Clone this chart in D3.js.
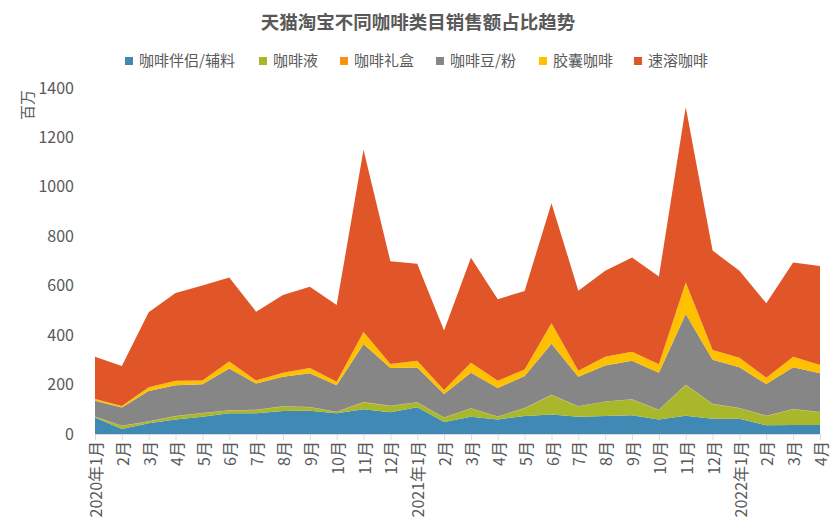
<!DOCTYPE html>
<html>
<head>
<meta charset="utf-8">
<script src="https://cdn.jsdelivr.net/npm/d3@7"></script>
<style>
  body { margin: 0; background: #fff; }
  text { font-family: "Noto Sans CJK SC", "Open Sans", sans-serif; }
</style>
</head>
<body>
<div id="chart"></div>
<script>
// months, 2020-01 .. 2022-04
const months = ['2020年1月', '2月', '3月', '4月', '5月', '6月', '7月', '8月', '9月', '10月', '11月', '12月',
    '2021年1月', '2月', '3月', '4月', '5月', '6月', '7月', '8月', '9月', '10月', '11月', '12月',
    '2022年1月', '2月', '3月', '4月'];

const seriesNames = ['咖啡伴侣/辅料', '咖啡液', '咖啡礼盒', '咖啡豆/粉', '胶囊咖啡', '速溶咖啡'];
const seriesColors = ['#4189b5', '#a8b82a', '#f7930f', '#868686', '#ffc000', '#e05628'];

// 百万
const creamer = [67, 20, 43, 59, 70, 84, 84, 93, 94, 84, 100, 88, 108, 49, 70, 59, 73, 79, 70, 73, 76, 59, 74, 62, 62, 35, 36, 36];
const liquid = [3, 12, 8, 13, 14, 11, 13, 18, 14, 5, 27, 25, 19, 17, 33, 11, 31, 78, 41, 58, 64, 38, 123, 59, 42, 38, 64, 52];
const giftBox = [1, 1, 1, 1, 1, 1, 1, 1, 1, 1, 2, 1, 1, 1, 1, 1, 1, 2, 1, 1, 1, 1, 2, 1, 1, 1, 1, 1];
const beans = [64, 74, 122, 124, 116, 169, 106, 120, 137, 107, 235, 153, 141, 95, 144, 115, 130, 206, 120, 145, 155, 150, 287, 178, 165, 128, 169, 157];
const capsule = [7, 6, 15, 18, 15, 28, 12, 16, 21, 14, 49, 16, 27, 16, 40, 29, 26, 83, 24, 36, 37, 34, 127, 40, 39, 26, 43, 33];
const instant = [171, 162, 304, 356, 385, 340, 279, 314, 329, 311, 737, 416, 393, 241, 425, 330, 318, 486, 324, 348, 381, 355, 710, 402, 352, 301, 381, 401];

const yTicks = [0, 200, 400, 600, 800, 1000, 1200, 1400];

const allSeries = [creamer, liquid, giftBox, beans, capsule, instant];
const rows = months.map((m, i) => {
    const r = { idx: i };
    seriesNames.forEach((s, k) => r[s] = allSeries[k][i]);
    return r;
});

const width = 831, height = 529;
const margin = { top: 88, right: 11, bottom: 95, left: 95 };

const svg = d3.select('#chart').append('svg')
    .attr('width', width).attr('height', height);

const x = d3.scalePoint(d3.range(months.length), [margin.left, width - margin.right]);
const y = d3.scaleLinear([0, 1400], [height - margin.bottom, margin.top]);

const stack = d3.stack().keys(seriesNames);
const layers = stack(rows);

const area = d3.area()
    .x(d => x(d.data.idx))
    .y0(d => y(d[0]))
    .y1(d => y(d[1]));

svg.append('g').selectAll('path')
    .data(layers)
    .join('path')
    .attr('d', area)
    .attr('fill', (d, i) => seriesColors[i]);

// x axis
const axisX = svg.append('g')
    .attr('transform', `translate(0,${y(0)})`)
    .call(d3.axisBottom(x).tickSize(6).tickSizeOuter(0).tickFormat(i => months[i]));
axisX.select('.domain').attr('stroke', '#d9d9d9');
axisX.selectAll('.tick line').attr('stroke', '#d9d9d9');
axisX.selectAll('.tick text')
    .attr('transform', 'rotate(-90)')
    .attr('x', -7).attr('y', 1).attr('dy', '0.35em')
    .style('text-anchor', 'end')
    .style('font-size', '16px')
    .attr('fill', '#595959');

// y axis labels only
const axisY = svg.append('g')
    .attr('transform', `translate(${margin.left - 18},0)`)
    .call(d3.axisLeft(y).tickValues(yTicks).tickSize(0).tickFormat(d3.format('d')));
axisY.select('.domain').remove();
axisY.selectAll('.tick text')
    .style('font-size', '16px')
    .attr('fill', '#595959');

svg.append('text')
    .attr('transform', `translate(28,105) rotate(-90)`)
    .style('text-anchor', 'middle')
    .attr('dy', '0.35em')
    .style('font-size', '15px')
    .attr('fill', '#595959')
    .text('百万');

// title
svg.append('text')
    .attr('x', 418).attr('y', 29)
    .style('text-anchor', 'middle')
    .style('font-size', '18.5px')
    .style('font-weight', 'bold')
    .attr('fill', '#595959')
    .text('天猫淘宝不同咖啡类目销售额占比趋势');

// legend
const legendX = [125, 259, 340, 436, 539, 634];
const legend = svg.append('g').selectAll('g')
    .data(seriesNames)
    .join('g')
    .attr('transform', (d, i) => `translate(${legendX[i]},61)`);
legend.append('rect')
    .attr('x', 0).attr('y', -4)
    .attr('width', 8).attr('height', 8)
    .attr('fill', (d, i) => seriesColors[i]);
legend.append('text')
    .attr('x', 14).attr('dy', '0.35em')
    .style('font-size', '15px')
    .attr('fill', '#595959')
    .text(d => d);
</script>
</body>
</html>
